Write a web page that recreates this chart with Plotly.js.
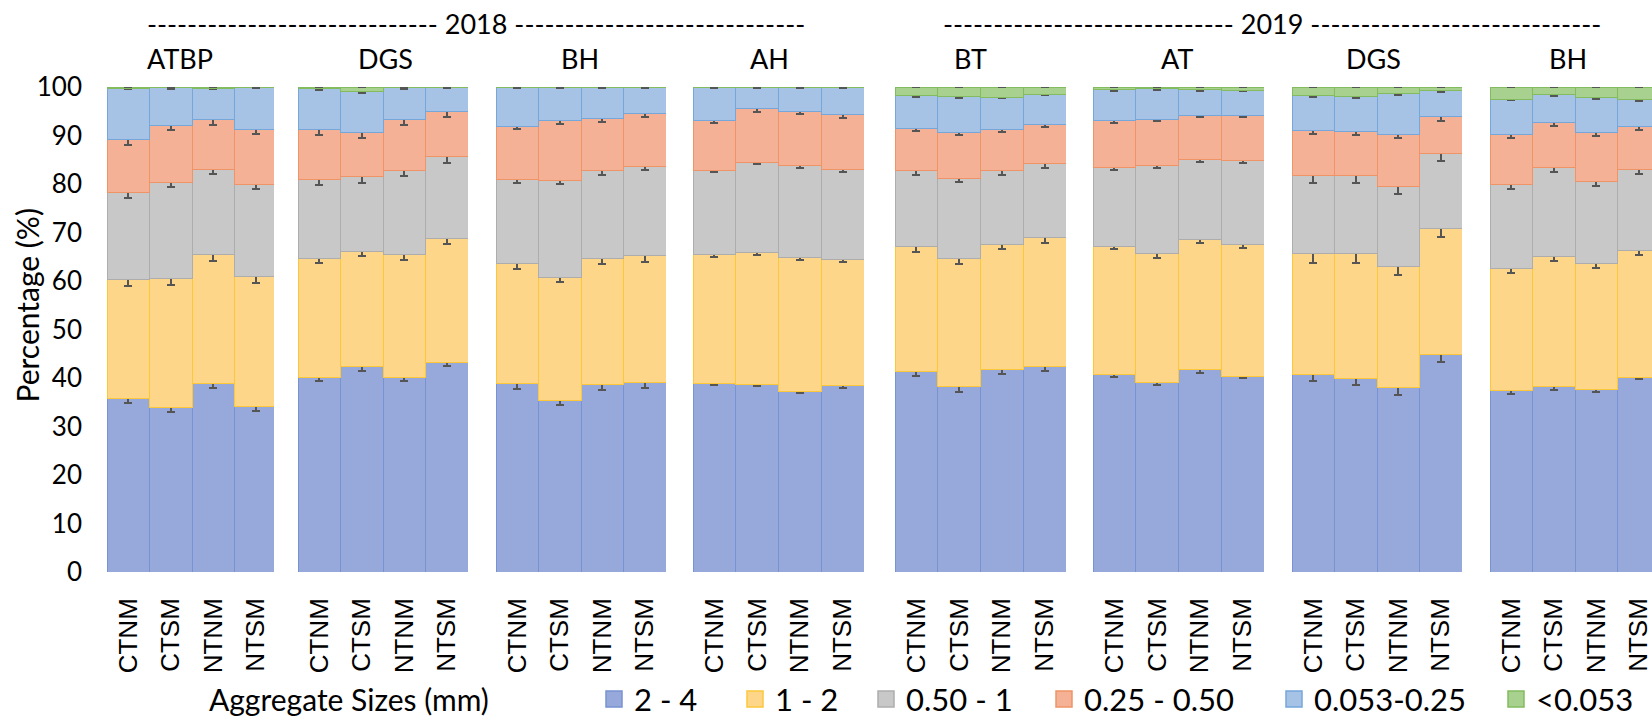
<!DOCTYPE html>
<html>
<head>
<meta charset="utf-8">
<script src="https://cdn.plot.ly/plotly-3.0.1.min.js"></script>
<style>
  html, body { margin: 0; padding: 0; background: #ffffff; overflow: hidden; }
  #chart { width: 1652px; height: 727px; }
</style>
</head>
<body>
<div id="chart"></div>
<script>
// ---------- data ----------
const panels = ['ATBP', 'DGS', 'BH', 'AH', 'BT', 'AT', 'DGS', 'BH'];
const years = ['2018', '2019'];
const treatments = ['CTNM', 'CTSM', 'NTNM', 'NTSM'];
const sizeClasses = ['2 - 4', '1 - 2', '0.50 - 1', '0.25 - 0.50', '0.053-0.25', '<0.053'];
const xTitle = 'Aggregate Sizes (mm)';
const yTitle = 'Percentage (%)';

// percentage of each aggregate size class, 8 panels x 4 treatments
const s2to4 = [35.8, 34.0, 38.9, 34.2, 40.2, 42.4, 40.2, 43.3, 38.8, 35.3, 38.6, 39.0, 38.9, 38.7, 37.3, 38.4,
               41.4, 38.2, 41.8, 42.3, 40.8, 39.0, 41.7, 40.4, 40.8, 40.0, 38.0, 44.8, 37.4, 38.2, 37.7, 40.2];
const s1to2 = [24.5, 26.5, 26.6, 26.7, 24.4, 23.7, 25.2, 25.5, 24.8, 25.5, 26.0, 26.2, 26.5, 27.1, 27.5, 26.0,
               25.8, 26.4, 25.8, 26.7, 26.4, 26.6, 26.8, 27.2, 24.8, 25.6, 25.0, 26.1, 25.2, 26.8, 25.9, 26.1];
const s05to1 = [17.9, 19.9, 17.5, 19.0, 16.3, 15.4, 17.4, 16.8, 17.4, 20.0, 18.1, 18.4, 17.4, 18.7, 19.0, 18.5,
                15.5, 16.6, 15.2, 15.2, 16.2, 18.3, 16.6, 17.3, 16.2, 16.2, 16.4, 15.4, 17.4, 18.4, 16.9, 16.7];
const s025to05 = [10.9, 11.7, 10.2, 11.4, 10.4, 9.1, 10.4, 9.3, 10.9, 12.2, 10.8, 10.9, 10.2, 11.1, 11.2, 11.4,
                  8.7, 9.4, 8.4, 8.0, 9.6, 9.4, 9.0, 9.2, 9.3, 9.1, 10.9, 7.6, 10.2, 9.3, 10.1, 8.8];
const s0053to025 = [10.6, 7.7, 6.5, 8.6, 8.3, 8.5, 6.6, 5.0, 8.0, 6.9, 6.4, 5.4, 6.9, 4.3, 4.9, 5.6,
                    6.8, 7.4, 6.7, 6.3, 6.4, 6.3, 5.3, 5.2, 7.1, 7.1, 8.4, 5.4, 7.3, 5.7, 7.2, 5.6];
const sLt0053 = [0.3, 0.2, 0.3, 0.1, 0.4, 0.9, 0.2, 0.1, 0.1, 0.1, 0.1, 0.1, 0.1, 0.1, 0.1, 0.1,
                 1.8, 2.0, 2.1, 1.5, 0.6, 0.4, 0.6, 0.7, 1.8, 2.0, 1.3, 0.7, 2.5, 1.6, 2.2, 2.6];

// standard errors
const e2to4 = [1.0, 1.0, 1.0, 1.0, 0.9, 1.0, 0.9, 0.9, 1.0, 0.8, 1.0, 1.0, 0.4, 0.4, 0.3, 0.4,
               1.0, 1.0, 0.9, 0.9, 0.6, 0.5, 0.6, 0.5, 1.5, 1.5, 1.5, 1.4, 0.7, 0.6, 0.6, 0.5];
const e1to2 = [1.3, 1.3, 1.3, 1.3, 0.95, 0.95, 1.1, 1.1, 1.1, 1.0, 1.1, 1.2, 0.4, 0.45, 0.45, 0.45,
               1.15, 1.1, 1.1, 1.2, 0.7, 0.8, 0.7, 0.75, 1.9, 1.85, 1.8, 1.8, 0.85, 0.8, 0.95, 0.95];
const e05to1 = [1.1, 1.1, 1.0, 1.0, 1.1, 1.2, 1.2, 1.2, 0.85, 0.8, 0.8, 0.8, 0.4, 0.4, 0.45, 0.45,
                0.75, 0.7, 0.85, 0.85, 0.5, 0.5, 0.5, 0.5, 1.6, 1.6, 1.5, 1.6, 1.0, 1.0, 1.0, 1.0];
const e025to05 = [1.0, 1.0, 1.0, 1.0, 1.1, 1.1, 1.1, 1.1, 0.6, 0.7, 0.7, 0.6, 0.5, 0.7, 0.6, 0.65,
                  0.5, 0.5, 0.5, 0.5, 0.35, 0.3, 0.35, 0.35, 0.85, 0.8, 0.9, 0.95, 0.7, 0.75, 0.7, 0.7];
const e0053to025 = [0.15, 0.15, 0.15, 0.15, 0.15, 0.4, 0.15, 0.15, 0.15, 0.15, 0.15, 0.15, 0.15, 0.15, 0.15, 0.15,
                    0.25, 0.25, 0.25, 0.25, 0.15, 0.15, 0.15, 0.2, 0.25, 0.25, 0.25, 0.25, 0.25, 0.25, 0.25, 0.25];
const eLt0053 = [0.1, 0.1, 0.1, 0.1, 0.1, 0.1, 0.1, 0.1, 0.1, 0.1, 0.1, 0.1, 0.1, 0.1, 0.1, 0.1,
                 0.1, 0.1, 0.1, 0.1, 0.1, 0.1, 0.1, 0.1, 0.1, 0.1, 0.1, 0.1, 0.1, 0.1, 0.1, 0.1];

// ---------- styling ----------
const W = 1652, H = 727;
const M = {l: 0, r: 0, t: 87, b: 145};
const plotH = H - M.t - M.b;
const px2x = v => v / W;
const px2y = v => (H - M.b - v) / plotH;

const fills = ['#97A9DA', '#FDD68A', '#C8C8C8', '#F4B196', '#A6C3E6', '#A8D08E'];
const lines = ['#7893D2', '#FCC83A', '#ADADAD', '#EE9466', '#75A7DB', '#82BC5E'];
const panelPx = [[107, 274], [298, 468], [496, 666], [693, 864], [895, 1066], [1093, 1264], [1292, 1462], [1490, 1652]];
const titlePx = [180, 385, 580, 769, 970, 1177, 1373, 1568];
const yearPx = [476, 1272];
const legendPx = [594, 735, 866, 1044, 1274, 1496];
const barPx = 42.5;

const series = [s2to4, s1to2, s05to1, s025to05, s0053to025, sLt0053];
const errs = [e2to4, e1to2, e05to1, e025to05, e0053to025, eLt0053];

const fontMain = 'Lato, "Open Sans", sans-serif';
const fontTick = '"Liberation Sans", Arial, sans-serif';

const traces = [];
const layout = {
  width: W, height: H,
  margin: M,
  paper_bgcolor: '#ffffff',
  plot_bgcolor: 'rgba(0,0,0,0)',
  barmode: 'stack',
  bargap: 0,
  showlegend: true,
  font: {family: fontMain, color: '#000000', size: 26},
  yaxis: {
    range: [0, 100], dtick: 10, tick0: 0,
    showgrid: false, zeroline: false, showline: false,
    ticks: '', ticklabelstandoff: 24,
    tickfont: {family: fontMain, size: 26, color: '#000000'},
    anchor: 'x', fixedrange: true
  },
  annotations: [],
  shapes: []
};

panels.forEach((p, pi) => {
  const ax = pi === 0 ? 'x' : 'x' + (pi + 1);
  const axKey = pi === 0 ? 'xaxis' : 'xaxis' + (pi + 1);
  const d = panelPx[pi];
  const hi = -0.5 + (d[1] - d[0]) / barPx;
  layout[axKey] = {
    domain: [px2x(d[0]), px2x(d[1])],
    range: [-0.5, Math.min(3.5, hi)],
    type: 'category',
    anchor: 'y',
    showgrid: false, zeroline: false, showline: false,
    ticks: '', tickangle: -90, ticklabelstandoff: 20,
    tickfont: {family: fontTick, size: 26, color: '#000000'},
    fixedrange: true
  };
  series.forEach((s, si) => {
    traces.push({
      type: 'bar',
      name: sizeClasses[si],
      x: treatments,
      y: s.slice(pi * 4, pi * 4 + 4),
      xaxis: ax, yaxis: 'y',
      showlegend: false,
      marker: {color: fills[si], line: {color: lines[si], width: 1}},
      error_y: {type: 'data', array: errs[si].slice(pi * 4, pi * 4 + 4),
                color: '#555555', thickness: 2, width: 4, visible: true},
      hoverinfo: 'skip'
    });
  });
  layout.annotations.push({
    text: p, xref: 'paper', yref: 'paper',
    x: px2x(titlePx[pi]), y: px2y(58), xanchor: 'center', yanchor: 'middle',
    showarrow: false, font: {family: fontMain, size: 27, color: '#000000'}
  });
});

// year headers
const dashes = '-----------------------------';
years.forEach((yr, yi) => {
  layout.annotations.push({
    text: dashes + ' ' + yr + ' ' + dashes, xref: 'paper', yref: 'paper',
    x: px2x(yearPx[yi]), y: px2y(22), xanchor: 'center', yanchor: 'middle',
    showarrow: false, font: {family: fontMain, size: 27, color: '#000000'}
  });
});

// y title
layout.annotations.push({
  text: yTitle, xref: 'paper', yref: 'paper', textangle: -90,
  x: px2x(27), y: px2y(310), xanchor: 'center', yanchor: 'middle',
  showarrow: false, font: {family: fontMain, size: 30, color: '#000000'}
});
// legend heading
layout.annotations.push({
  text: xTitle, xref: 'paper', yref: 'paper',
  x: px2x(349), y: px2y(712), xanchor: 'center', yanchor: 'middle',
  showarrow: false, font: {family: fontMain, size: 30, color: '#000000'}
});

// legend entries, one legend per size class
sizeClasses.forEach((c, ci) => {
  const lg = ci === 0 ? 'legend' : 'legend' + (ci + 1);
  layout[lg] = {
    x: px2x(legendPx[ci]), xanchor: 'left',
    y: px2y(712), yanchor: 'middle',
    orientation: 'h', bgcolor: 'rgba(0,0,0,0)', borderwidth: 0,
    font: {family: fontMain, size: 31, color: '#000000'}
  };
  traces.push({
    type: 'scatter', mode: 'markers', name: c,
    x: [null], y: [null], xaxis: 'x', yaxis: 'y',
    legend: lg, showlegend: true, hoverinfo: 'skip',
    marker: {symbol: 'square', size: 16, color: fills[ci], line: {color: lines[ci], width: 1.5}}
  });
});

Plotly.newPlot('chart', traces, layout, {displayModeBar: false, staticPlot: true});
</script>
</body>
</html>
